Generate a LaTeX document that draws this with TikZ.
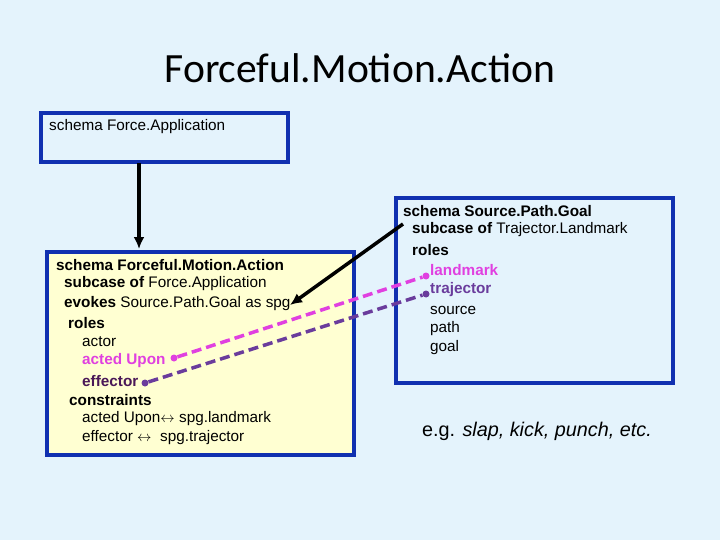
\documentclass[tikz,border=0pt]{standalone}
\usepackage{fontspec}
\usetikzlibrary{arrows.meta}
\setmainfont{Liberation Sans}
\newfontfamily\titlefont{Carlito}
\definecolor{bg}{HTML}{E4F3FC}
\definecolor{bx}{HTML}{1030B0}
\definecolor{yel}{HTML}{FFFFD2}
\definecolor{pk}{HTML}{E040E0}
\definecolor{pu}{HTML}{6A3C9C}
\definecolor{dpu}{HTML}{4A1858}
\begin{document}
\begin{tikzpicture}[x=1pt,y=-1pt,
  t/.style={anchor=west,inner sep=0pt,font=\fontsize{15.3}{18}\selectfont},
  schemabox/.style={draw=bx,line width=3.2pt},
  dot/.style={circle,fill,inner sep=0pt,minimum size=7pt},
  link/.style={line width=3.5pt,dash pattern=on 10pt off 5pt}]
\fill[bg] (0,0) rectangle (720,540);
\useasboundingbox (0,0) rectangle (720,540);
\node[font=\titlefont\fontsize{41.6}{46}\selectfont] (title) at (360,68) {Forceful.Motion.Action};
\draw[schemabox] (41,113) rectangle (288,162);
\node[t] (fa) at (49,127) {schema Force.Application};
\coordinate (faB) at (139,163);
\draw[schemabox,fill=yel] (47,252) rectangle (354,455);
\coordinate (fmT) at (139,249);
\node[t] (l1) at (56,265) {\textbf{schema Forceful.Motion.Action}};
\node[t] (l2) at (64,284) {\textbf{subcase of} Force.Application};
\node[t] (l3) at (64,304) {\textbf{evokes} Source.Path.Goal as spg};
\node[t] (l4) at (68,323) {\textbf{roles}};
\node[t] (l5) at (82,342) {actor};
\node[t,text=pk] (l6) at (82,361) {\textbf{acted Upon}};
\node[t,text=dpu] (l7) at (82,381) {\textbf{effector}};
\node[t] (l8) at (69,400) {\textbf{constraints}};
\node[t] (l9) at (82,419) {acted Upon$\leftrightarrow$ spg.landmark};
\node[t] (l10) at (82,438) {effector $\leftrightarrow$\ \ spg.trajector};
\draw[schemabox] (396,198) rectangle (673,383);
\node[t] (r1) at (403,211) {\textbf{schema Source.Path.Goal}};
\node[t] (r2) at (412,230) {\textbf{subcase of} Trajector.Landmark};
\node[t] (r3) at (412,250) {\textbf{roles}};
\node[t,text=pk] (r4) at (430,270) {\textbf{landmark}};
\node[t,text=pu] (r5) at (430,290) {\textbf{trajector}};
\node[t] (r6) at (430,310) {source};
\node[t] (r7) at (430,329) {path};
\node[t] (r8) at (430,348) {goal};
\coordinate (spgS) at (403,224);
\coordinate (spgE) at (290,305);
\node[font=\fontsize{19.8}{23}\selectfont] (eg) at (537,431) {e.g. \textit{slap, kick, punch, etc.}};
\draw[line width=3.5pt,-{Latex[length=12pt,width=11pt]}] (faB) -- (fmT);
\draw[line width=3.5pt,-{Latex[length=12pt,width=11pt]}] (spgS) -- (spgE);
\node[dot,fill=pk] (d1) at (174,358) {};
\node[dot,fill=pu] (d2) at (145,383) {};
\node[dot,fill=pk] (d3) at (426,276) {};
\node[dot,fill=pu] (d4) at (426,294) {};
\draw[link,pk] (d1) -- (d3);
\draw[link,pu] (d2) -- (d4);
\end{tikzpicture}
\end{document}
